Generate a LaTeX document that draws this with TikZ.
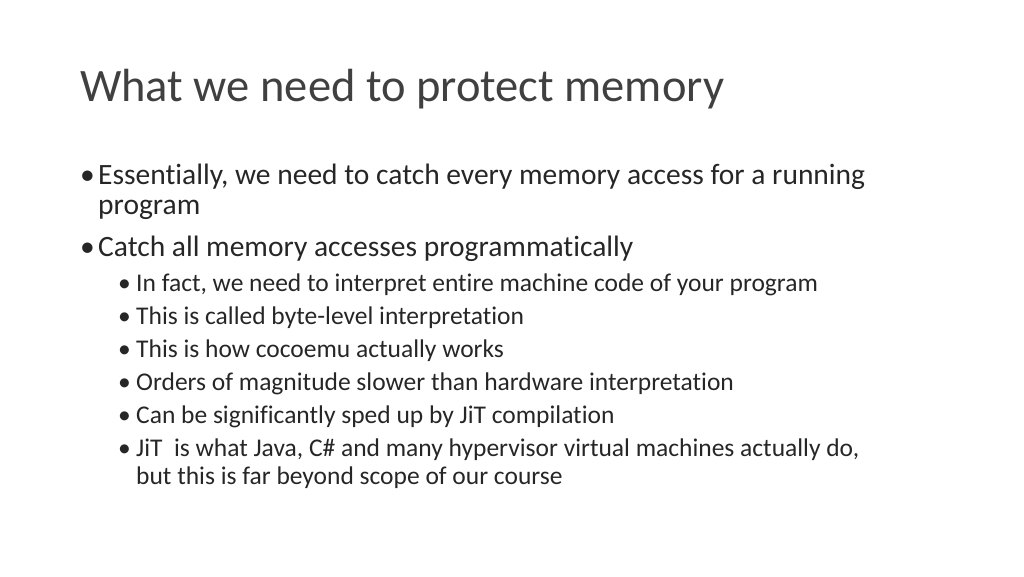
\documentclass[tikz,border=0pt]{standalone}
\usepackage{fontspec}
\setmainfont{Carlito}[Ligatures=NoCommon]
\begin{document}
\begin{tikzpicture}[
    x=1pt, y=-1pt,
    every node/.style={anchor=base west, inner sep=0pt, text=black!85},
    title/.style={font=\fontsize{46.5}{50}\selectfont, text=black!75},
    itemone/.style={font=\fontsize{29.5}{32}\selectfont},
    itemtwo/.style={font=\fontsize{25.5}{28}\selectfont}
    ]
    \useasboundingbox (0,0) rectangle (1024,576);

    \node[title] (title) at (80,101) {What we need to protect memory};

    \node[itemone] (b1) at (80,184) {•};
    \node[itemone] (t1) at (98,184) {Essentially, we need to catch every memory access for a running};
    \node[itemone] (t1b) at (98,214) {program};
    \node[itemone] (b2) at (80,256) {•};
    \node[itemone] (t2) at (98,256) {Catch all memory accesses programmatically};

    \foreach \y/\txt [count=\i] in {
        291/{In fact, we need to interpret entire machine code of your program},
        324/{This is called byte-level interpretation},
        357/{This is how cocoemu actually works},
        390/{Orders of magnitude slower than hardware interpretation},
        423/{Can be significantly sped up by JiT compilation},
        456/{JiT\ \ is what Java, C\# and many hypervisor virtual machines actually do,}} {
      \node[itemtwo] (sb\i) at (118,\y) {•};
      \node[itemtwo] (st\i) at (136,\y) {\txt};
    }
    \node[itemtwo] (st6b) at (136,484) {but this is far beyond scope of our course};
\end{tikzpicture}
\end{document}
